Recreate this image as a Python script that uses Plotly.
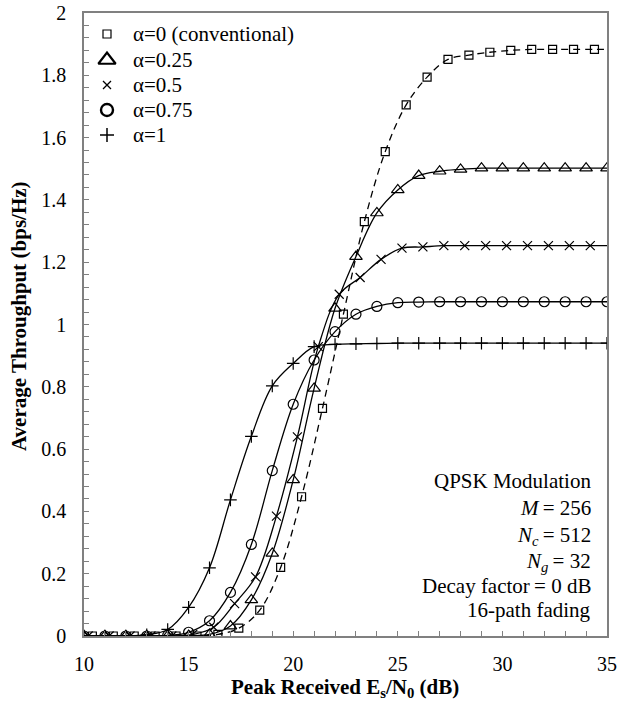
import plotly.graph_objects as go

# ---------------- data ----------------
x_min, x_max = 10, 35

snr_int = list(range(10, 36))                       # markers at integer dB
snr_cross = [k + 0.2 for k in range(10, 35)]        # alpha = 0.5 markers
snr_square = [k + 0.4 for k in range(10, 35)]       # alpha = 0 markers

y_alpha1 = [0, 0, 0, 0.004, 0.021, 0.092, 0.219, 0.437, 0.641, 0.803, 0.875,
            0.929, 0.936, 0.938, 0.939] + [0.94] * 11
y_alpha075 = [0, 0, 0, 0, 0.002, 0.012, 0.049, 0.140, 0.294, 0.531, 0.744,
              0.886, 0.977, 1.033, 1.058, 1.070, 1.072] + [1.073] * 9
y_alpha025 = [0, 0, 0, 0, 0, 0.001, 0.005, 0.032, 0.116, 0.265, 0.501, 0.795,
              1.052, 1.218, 1.358, 1.432, 1.478, 1.492, 1.498] + [1.502] * 7
y_alpha05 = [0, 0, 0, 0, 0, 0.005, 0.028, 0.104, 0.190, 0.385, 0.639, 0.929,
             1.097, 1.151, 1.209, 1.245, 1.249] + [1.253] * 8
y_alpha0 = [0, 0, 0, 0, 0, 0, 0.005, 0.025, 0.083, 0.220, 0.447, 0.731, 1.033,
            1.330, 1.555, 1.705, 1.794, 1.851, 1.865, 1.874, 1.880] + [1.883] * 4

legend_names = ["\u03b1=0 (conventional)", "\u03b1=0.25", "\u03b1=0.5",
                "\u03b1=0.75", "\u03b1=1"]

info_lines = ["QPSK Modulation", "<i>M</i>\u2009= 256", "<i>N<sub>c</sub></i>\u2009= 512",
              "<i>N<sub>g</sub></i>\u2009= 32", "Decay factor\u2009= 0 dB", "16-path fading"]

x_title = "<b>Peak Received E<sub>s</sub>/N<sub>0</sub> (dB)</b>"
y_title = "<b>Average Throughput (bps/Hz)</b>"

x_ticks = [10, 15, 20, 25, 30, 35]
y_ticks = [0, 0.2, 0.4, 0.6, 0.8, 1, 1.2, 1.4, 1.6, 1.8, 2]

# ---------------- layout helpers ----------------
FONT = "'Liberation Serif', 'Times New Roman', serif"
W, H = 633, 701
PL, PR, PT, PB = 84, 607, 13, 636          # plot area in pixels


def px_to_paper_x(px):
    return (px - PL) / (PR - PL)


def px_to_paper_y(py):
    return (PB - py) / (PB - PT)


series = [
    # x, y, symbol, size, dash, legend size, legend line width
    (snr_square, y_alpha0, "square-open", 8, "7px,5px", 8, 1.2),
    (snr_int, y_alpha025, "triangle-up-open", 11, "solid", 15, 2.2),
    (snr_cross, y_alpha05, "x-thin-open", 9, "solid", 8, 1.3),
    (snr_int, y_alpha075, "circle-open", 10, "solid", 12, 2.4),
    (snr_int, y_alpha1, "cross-thin-open", 9, "solid", 10, 1.5),
]

fig = go.Figure()
for xs, ys, sym, size, dash, _, _ in series:
    lx = list(xs)
    ly = list(ys)
    if lx[0] > x_min:
        lx = [x_min] + lx
        ly = [ly[0]] + ly
    if lx[-1] < x_max:
        lx = lx + [x_max]
        ly = ly + [ly[-1]]
    fig.add_trace(go.Scatter(
        x=lx, y=ly, mode="lines", showlegend=False, hoverinfo="skip",
        line=dict(color="black", width=1.3, dash=dash, shape="spline", smoothing=1.0),
    ))
    fig.add_trace(go.Scatter(
        x=xs, y=ys, mode="markers", showlegend=False,
        marker=dict(symbol=sym, size=size, color="black",
                    line=dict(color="black", width=1.2)),
    ))

# ---------------- hand-built legend (tight row spacing like the reference) ----------------
legend_rows_px = [34, 60, 85, 110, 135]
sym_x_px, text_x_px = 107, 131
for (xs, ys, sym, size, dash, lsize, lwidth), name, ry in zip(series, legend_names, legend_rows_px):
    fig.add_trace(go.Scatter(
        x=[px_to_paper_x(sym_x_px)], y=[px_to_paper_y(ry)], xaxis="x2", yaxis="y2",
        mode="markers", showlegend=False, hoverinfo="skip",
        marker=dict(symbol=sym, size=lsize, color="black",
                    line=dict(color="black", width=lwidth)),
    ))
    fig.add_annotation(
        xref="paper", yref="paper", x=px_to_paper_x(text_x_px), y=px_to_paper_y(ry),
        xanchor="left", yanchor="middle", showarrow=False, text=name,
        font=dict(family=FONT, size=21, color="black"),
    )

# ---------------- info block ----------------
info_centers_px = [481.7, 508.3, 535, 561.7, 586.7, 610.3]
for line, cy in zip(info_lines, info_centers_px):
    fig.add_annotation(
        xref="paper", yref="paper", x=px_to_paper_x(593), y=px_to_paper_y(cy - 14.5),
        xanchor="right", yanchor="top", align="right", showarrow=False, text=line,
        font=dict(family=FONT, size=21, color="black"),
    )

# ---------------- axis titles ----------------
fig.add_annotation(
    xref="paper", yref="paper", x=px_to_paper_x(345), y=px_to_paper_y(673),
    xanchor="center", yanchor="top", showarrow=False, text=x_title,
    font=dict(family=FONT, size=21, color="black"),
)
fig.add_annotation(
    xref="paper", yref="paper", x=px_to_paper_x(19), y=px_to_paper_y(316),
    xanchor="center", yanchor="middle", showarrow=False, text=y_title, textangle=-90,
    font=dict(family=FONT, size=21, color="black"),
)

axis_common = dict(
    showgrid=False, zeroline=False, showline=True, linecolor="#808080",
    linewidth=1.5, mirror=True, ticks="inside", ticklen=5, tickcolor="#808080",
    tickfont=dict(family=FONT, size=20, color="black"), automargin=False,
)

fig.update_xaxes(
    range=[x_min, x_max], tickvals=x_ticks,
    minor=dict(dtick=1, ticks="inside", ticklen=5, tickcolor="#808080"),
    ticklabelstandoff=9,
    **axis_common,
)
fig.update_yaxes(
    range=[0, 2], tickvals=y_ticks,
    minor=dict(dtick=0.04, ticks="inside", ticklen=5, tickcolor="#808080"),
    ticklabelstandoff=12,
    **axis_common,
)

fig.update_layout(
    width=W, height=H,
    margin=dict(l=PL, r=W - PR, t=PT, b=H - PB, autoexpand=False),
    paper_bgcolor="white", plot_bgcolor="white",
    font=dict(family=FONT, size=20, color="black"),
    showlegend=False,
    xaxis2=dict(range=[0, 1], overlaying="x", visible=False, fixedrange=True),
    yaxis2=dict(range=[0, 1], overlaying="y", visible=False, fixedrange=True),
)

fig.write_html("out.html", config={"displayModeBar": False},
               post_script="document.body.style.margin='0';document.body.style.padding='0';")
